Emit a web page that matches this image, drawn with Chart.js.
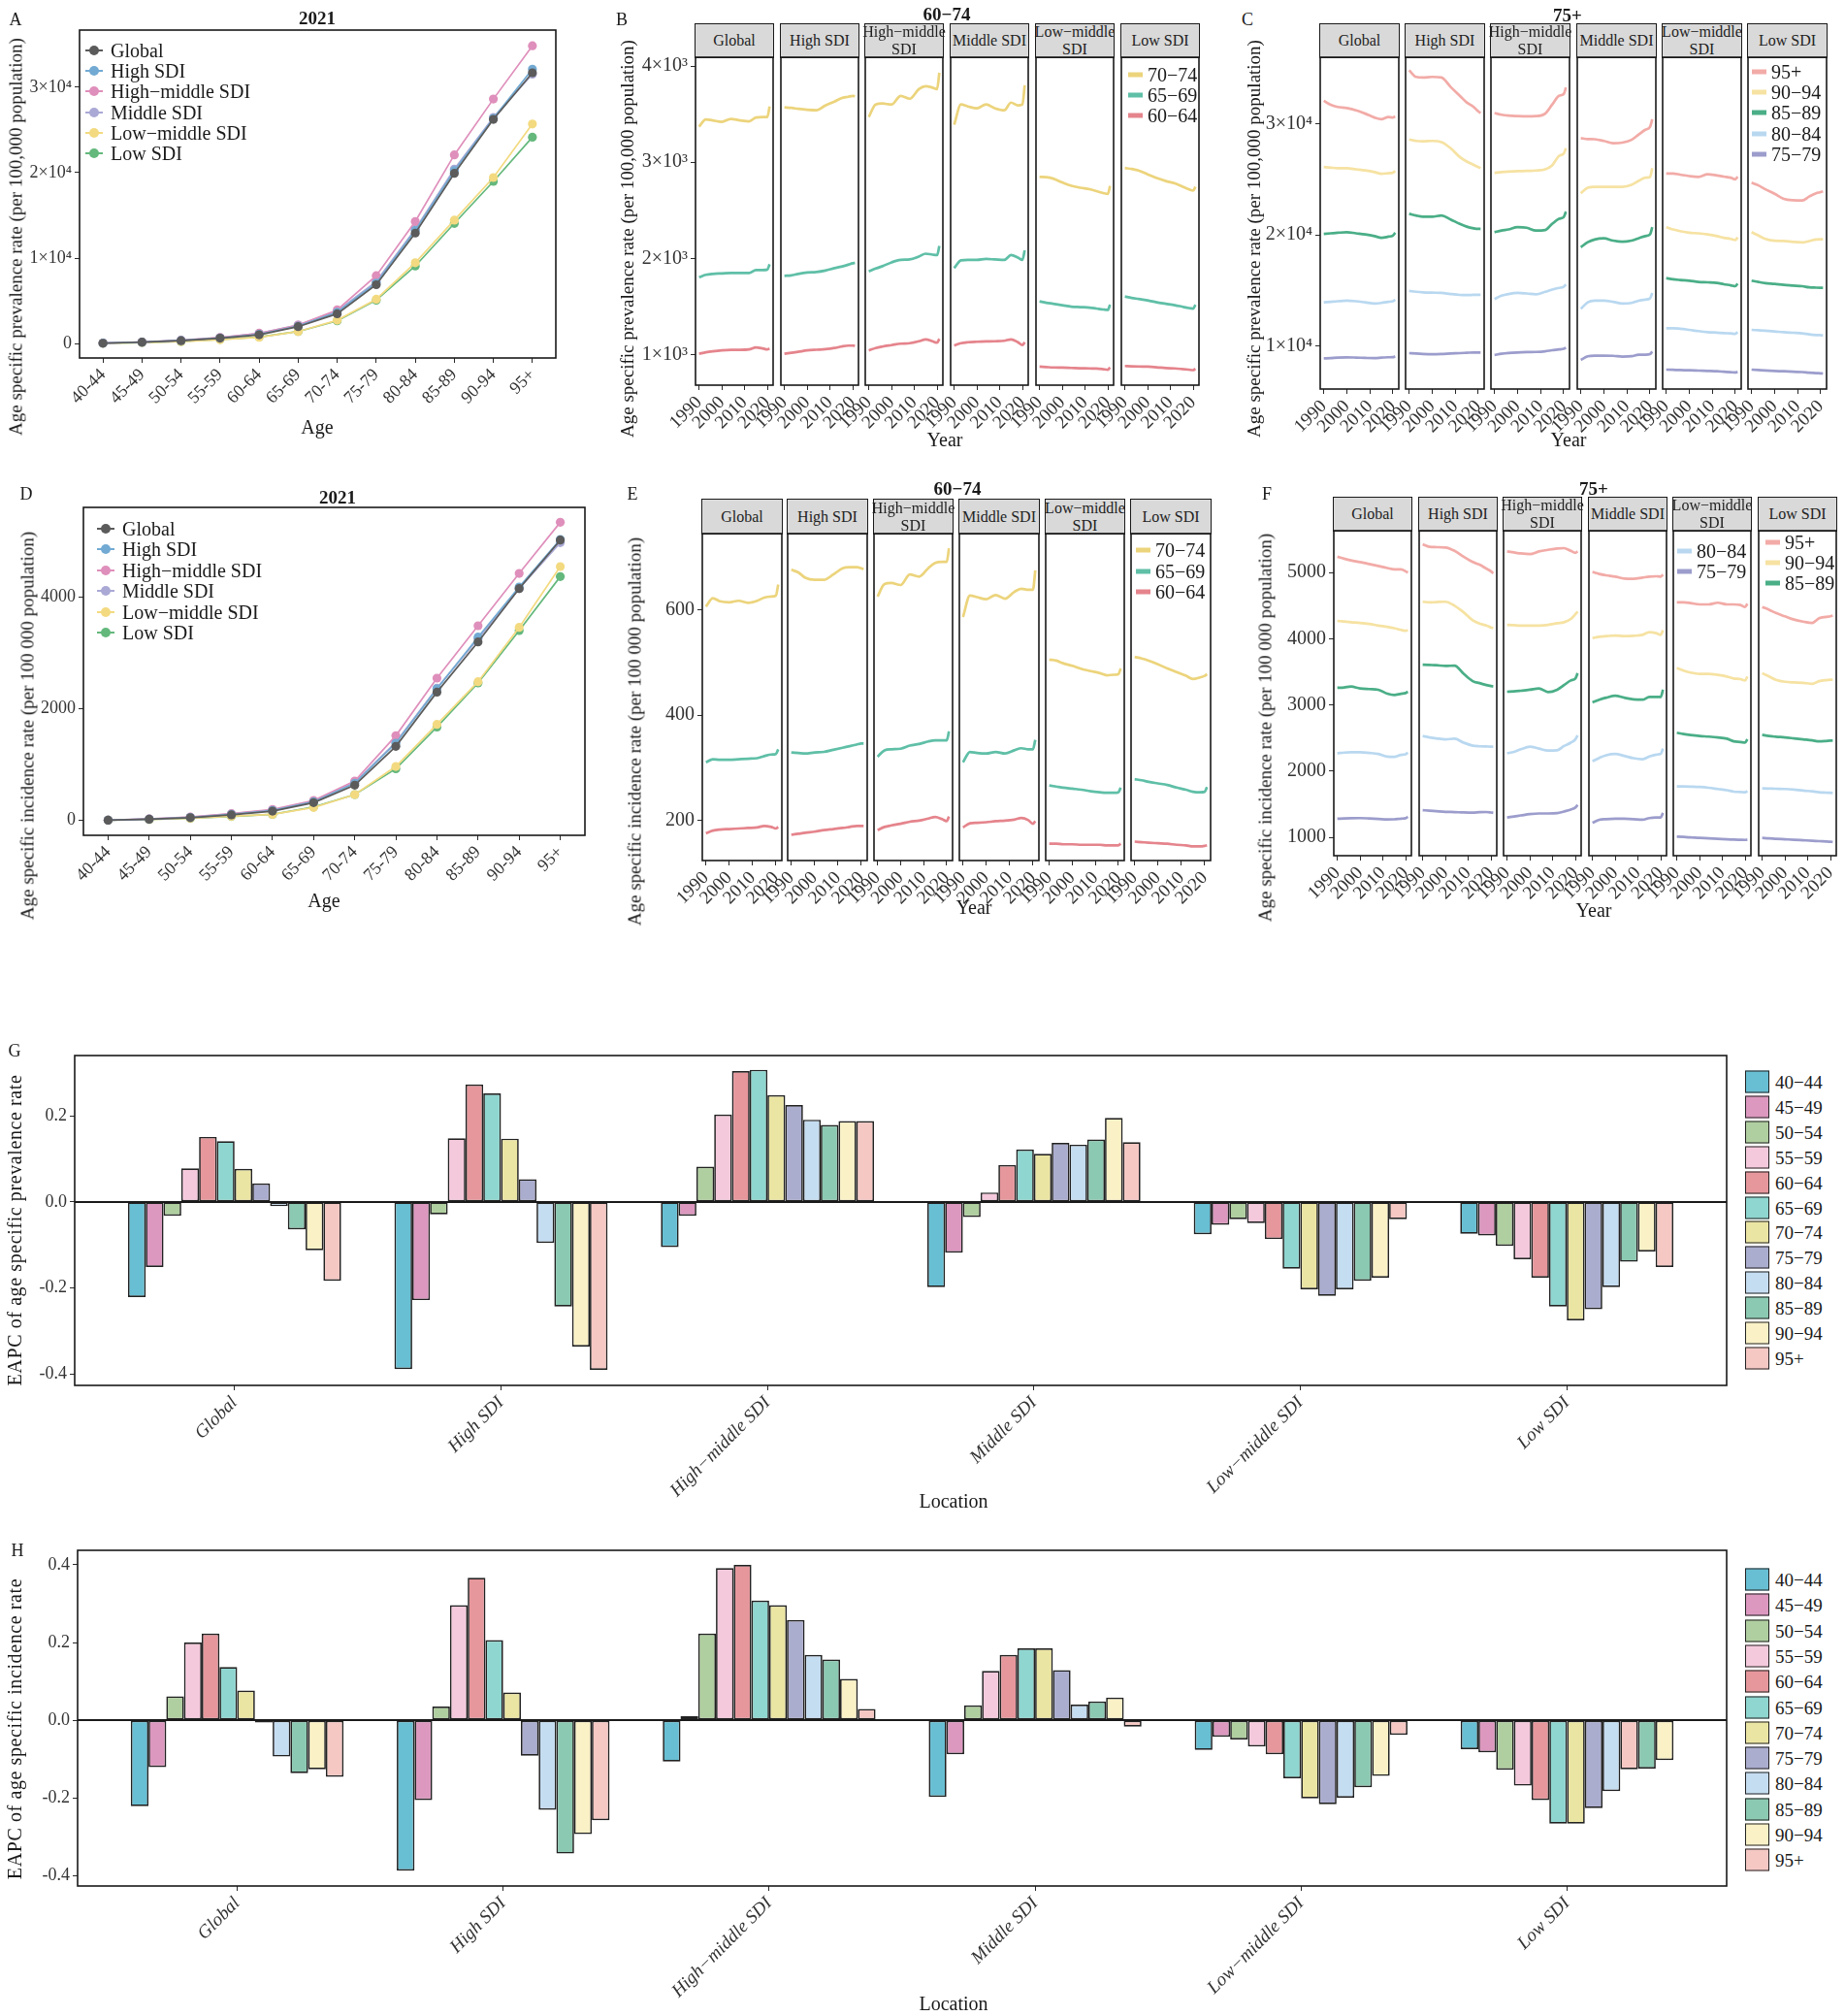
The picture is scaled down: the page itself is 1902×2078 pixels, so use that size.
<!DOCTYPE html>
<html>
<head>
<meta charset="utf-8">
<script src="https://cdn.jsdelivr.net/npm/chart.js@4.4.1/dist/chart.umd.min.js"></script>
<style>
  body { margin: 0; background: #fff; }
  #page { position: relative; width: 1902px; height: 2078px; overflow: hidden; background: #fff;
          font-family: "Liberation Serif", "Times New Roman", serif; color: #1a1a1a; }
  .abs { position: absolute; white-space: nowrap; line-height: 1; }
  .strip { position: absolute; box-sizing: border-box; background: #d9d9d9; border: 1.5px solid #1a1a1a;
           display: flex; align-items: center; justify-content: center; text-align: center;
           font-size: 16px; line-height: 18px; white-space: pre-line; color: #222; }
</style>
</head>
<body>
<div id="page"></div>
<script>
// ---------- shared categories ----------
const AGES = ["40-44", "45-49", "50-54", "55-59", "60-64", "65-69", "70-74", "75-79", "80-84", "85-89", "90-94", "95+"];
const AGE_GROUPS = ["40−44", "45−49", "50−54", "55−59", "60−64", "65−69", "70−74", "75−79", "80−84", "85−89", "90−94", "95+"];
const SDI_NAMES = ["Global", "High SDI", "High−middle SDI", "Middle SDI", "Low−middle SDI", "Low SDI"];
const STRIP_LABELS = ["Global", "High SDI", "High−middle\nSDI", "Middle SDI", "Low−middle\nSDI", "Low SDI"];
const YEARS = [1990, 1993, 1996, 2000, 2004, 2008, 2012, 2015, 2018, 2020, 2021];
const YEAR_TICKS = [1990, 2000, 2010, 2020];

// ---------- A: prevalence by age, 2021 ----------
const prevGlobal      = [30, 150, 330, 620, 1020, 1970, 3480, 6880, 12930, 19920, 26240, 31700];
const prevHigh        = [40, 160, 350, 650, 1080, 2040, 3670, 7070, 13230, 20230, 26350, 32130];
const prevHighMiddle  = [50, 170, 380, 700, 1200, 2150, 3930, 7940, 14290, 22080, 28620, 34860];
const prevMiddle      = [40, 160, 360, 680, 1180, 2150, 3780, 7260, 13380, 20420, 26470, 31530];
const prevLowMiddle   = [20, 110, 220, 450, 720, 1400, 2720, 5180, 9450, 14440, 19430, 25700];
const prevLow         = [20, 110, 230, 480, 760, 1400, 2650, 5070, 9070, 14060, 18980, 24160];
const aTicks = [0, 10000, 20000, 30000];
const aTickLabels = ["0", "1×10⁴", "2×10⁴", "3×10⁴"];

// ---------- D: incidence by age, 2021 ----------
const incGlobal     = [5, 22, 50, 100, 168, 319, 632, 1328, 2301, 3200, 4157, 5026];
const incHigh       = [6, 24, 55, 110, 180, 335, 667, 1386, 2359, 3287, 4186, 5038];
const incHighMiddle = [7, 28, 62, 122, 197, 359, 707, 1519, 2551, 3490, 4429, 5345];
const incMiddle     = [6, 26, 60, 118, 190, 342, 678, 1403, 2371, 3258, 4157, 4980];
const incLowMiddle  = [4, 18, 40, 75, 110, 232, 464, 968, 1722, 2487, 3461, 4551];
const incLow        = [4, 18, 40, 72, 110, 243, 464, 927, 1675, 2464, 3403, 4371];
const dTicks = [0, 2000, 4000];
const dTickLabels = ["0", "2000", "4000"];

// ---------- B: prevalence 60-74 by year (rows: 70−74, 65−69, 60−64) ----------
const B_SERIES = ["70−74", "65−69", "60−64"];
const bGlobal = [
  [3370, 3445, 3435, 3420, 3450, 3435, 3425, 3465, 3470, 3470, 3580],
  [1805, 1830, 1840, 1845, 1850, 1850, 1850, 1880, 1880, 1885, 1940],
  [1010, 1025, 1035, 1045, 1050, 1050, 1055, 1075, 1065, 1055, 1065]];
const bHigh = [
  [3570, 3565, 3555, 3545, 3540, 3590, 3630, 3665, 3680, 3690, 3685],
  [1820, 1825, 1840, 1855, 1860, 1875, 1900, 1915, 1935, 1950, 1955],
  [1010, 1020, 1030, 1045, 1052, 1058, 1070, 1085, 1095, 1095, 1092]];
const bHighMiddle = [
  [3470, 3600, 3610, 3600, 3690, 3660, 3760, 3790, 3775, 3760, 3930],
  [1865, 1895, 1920, 1960, 1985, 1990, 2020, 2050, 2040, 2035, 2130],
  [1045, 1070, 1085, 1100, 1115, 1120, 1140, 1160, 1140, 1125, 1165]];
const bMiddle = [
  [3390, 3600, 3580, 3560, 3600, 3560, 3540, 3620, 3590, 3600, 3800],
  [1900, 1980, 1985, 1985, 1995, 1990, 1985, 2035, 2010, 1985, 2085],
  [1095, 1120, 1130, 1135, 1138, 1140, 1145, 1160, 1130, 1100, 1130]];
const bLowMiddle = [
  [2848, 2845, 2830, 2790, 2755, 2735, 2720, 2700, 2680, 2670, 2755],
  [1555, 1540, 1530, 1515, 1500, 1495, 1490, 1480, 1470, 1465, 1520],
  [876, 872, 868, 866, 863, 860, 858, 856, 850, 845, 868]];
const bLow = [
  [2940, 2930, 2915, 2875, 2835, 2805, 2780, 2750, 2720, 2705, 2745],
  [1605, 1590, 1580, 1565, 1545, 1530, 1515, 1500, 1485, 1480, 1520],
  [883, 880, 878, 876, 870, 862, 858, 852, 845, 840, 855]];
const bTicks = [1000, 2000, 3000, 4000];
const bTickLabels = ["1×10³", "2×10³", "3×10³", "4×10³"];

// ---------- C: prevalence 75+ by year (rows: 95+, 90−94, 85−89, 80−84, 75−79) ----------
const C_SERIES = ["95+", "90−94", "85−89", "80−84", "75−79"];
const cGlobal = [
  [32050, 31700, 31500, 31400, 31200, 30900, 30550, 30400, 30600, 30550, 30650],
  [26100, 26050, 26000, 26000, 25900, 25800, 25650, 25500, 25550, 25600, 25750],
  [20100, 20150, 20200, 20250, 20150, 20050, 19900, 19750, 19850, 19950, 20200],
  [13950, 14000, 14050, 14100, 14050, 13950, 13850, 13900, 14000, 14050, 14200],
  [8920, 8950, 8990, 9010, 8990, 8960, 8940, 8980, 9020, 9030, 9100]];
const cHigh = [
  [34800, 34200, 34150, 34200, 34150, 33300, 32500, 31900, 31500, 31100, 30950],
  [28580, 28450, 28420, 28450, 28350, 27800, 27000, 26600, 26300, 26100, 26000],
  [21900, 21750, 21650, 21650, 21750, 21400, 21000, 20750, 20600, 20550, 20550],
  [14970, 14900, 14850, 14820, 14800, 14700, 14620, 14600, 14620, 14620, 14620],
  [9390, 9350, 9320, 9300, 9320, 9360, 9390, 9420, 9450, 9450, 9450]];
const cHighMiddle = [
  [30950, 30800, 30720, 30680, 30660, 30680, 30900, 31700, 32500, 32650, 33250],
  [25580, 25650, 25700, 25730, 25760, 25790, 25900, 26250, 27100, 27300, 27800],
  [20250, 20400, 20500, 20700, 20650, 20400, 20450, 21000, 21450, 21600, 22100],
  [14250, 14550, 14700, 14800, 14750, 14680, 14900, 15100, 15250, 15350, 15550],
  [9220, 9330, 9400, 9450, 9480, 9500, 9560, 9650, 9720, 9780, 9880]];
const cMiddle = [
  [28700, 28620, 28600, 28450, 28250, 28300, 28550, 29000, 29450, 29700, 30400],
  [23750, 24250, 24330, 24330, 24330, 24330, 24500, 24850, 25150, 25200, 26000],
  [18900, 19350, 19600, 19700, 19500, 19400, 19500, 19700, 19900, 20050, 20700],
  [13370, 13950, 14100, 14100, 14000, 13850, 13900, 14100, 14200, 14300, 14800],
  [8780, 9100, 9160, 9160, 9150, 9080, 9110, 9240, 9250, 9300, 9530]];
const cLowMiddle = [
  [25520, 25520, 25420, 25290, 25220, 25450, 25350, 25250, 25150, 25000, 25230],
  [20700, 20500, 20350, 20200, 20150, 20050, 19900, 19750, 19650, 19550, 19800],
  [16130, 16020, 15960, 15900, 15780, 15750, 15700, 15580, 15480, 15400, 15640],
  [11630, 11630, 11580, 11480, 11370, 11280, 11230, 11190, 11160, 11130, 11280],
  [7910, 7890, 7870, 7850, 7820, 7790, 7760, 7720, 7680, 7650, 7700]];
const cLow = [
  [24700, 24450, 24100, 23700, 23250, 23120, 23100, 23450, 23750, 23850, 23920],
  [20260, 19950, 19650, 19480, 19470, 19380, 19330, 19450, 19600, 19620, 19620],
  [15900, 15780, 15680, 15610, 15520, 15460, 15400, 15300, 15270, 15260, 15260],
  [11480, 11440, 11400, 11340, 11270, 11220, 11170, 11080, 11020, 11000, 10990],
  [7910, 7870, 7830, 7790, 7760, 7720, 7690, 7640, 7600, 7570, 7560]];
const cTicks = [10000, 20000, 30000];
const cTickLabels = ["1×10⁴", "2×10⁴", "3×10⁴"];

// ---------- E: incidence 60-74 by year ----------
const eGlobal = [
  [607, 623, 617, 615, 618, 614, 618, 624, 626, 628, 649],
  [310, 316, 315, 315, 316, 317, 318, 322, 325, 326, 335],
  [175, 180, 182, 183, 184, 185, 186, 189, 187, 184, 187]];
const eHigh = [
  [677, 672, 662, 658, 658, 668, 680, 682, 682, 680, 678],
  [329, 328, 327, 329, 330, 334, 338, 341, 344, 346, 346],
  [172, 174, 176, 178, 181, 183, 185, 187, 189, 189, 189]];
const eHighMiddle = [
  [626, 650, 652, 648, 668, 664, 680, 690, 692, 692, 718],
  [321, 333, 335, 336, 342, 345, 350, 352, 352, 352, 369],
  [181, 187, 190, 193, 197, 199, 203, 206, 202, 198, 207]];
const eMiddle = [
  [587, 628, 625, 621, 629, 622, 635, 641, 639, 639, 676],
  [310, 330, 328, 327, 330, 327, 333, 337, 335, 335, 353],
  [186, 194, 195, 196, 198, 199, 201, 204, 200, 193, 198]];
const eLowMiddle = [
  [506, 504, 499, 494, 488, 484, 480, 476, 477, 478, 489],
  [266, 264, 262, 260, 258, 255, 253, 252, 252, 253, 262],
  [155, 155, 154, 154, 153, 153, 153, 152, 152, 152, 155]];
const eLow = [
  [511, 508, 504, 497, 489, 482, 475, 469, 472, 475, 478],
  [278, 276, 273, 270, 267, 262, 258, 254, 253, 254, 263],
  [159, 158, 157, 156, 155, 153, 152, 150, 150, 151, 152]];
const eTicks = [200, 400, 600];
const eTickLabels = ["200", "400", "600"];

// ---------- F: incidence 75+ by year ----------
const fGlobal = [
  [5240, 5210, 5185, 5160, 5130, 5100, 5070, 5050, 5050, 5020, 5000],
  [4270, 4260, 4250, 4240, 4225, 4200, 4180, 4160, 4135, 4120, 4130],
  [3260, 3265, 3278, 3250, 3240, 3230, 3170, 3150, 3170, 3180, 3200],
  [2270, 2280, 2285, 2285, 2275, 2260, 2220, 2215, 2245, 2255, 2280],
  [1280, 1285, 1288, 1290, 1285, 1278, 1270, 1272, 1282, 1288, 1310]];
const fHigh = [
  [5430, 5390, 5385, 5380, 5330, 5240, 5160, 5120, 5060, 5020, 4990],
  [4560, 4550, 4555, 4560, 4500, 4400, 4280, 4230, 4200, 4170, 4160],
  [3610, 3605, 3600, 3590, 3595, 3470, 3360, 3330, 3300, 3285, 3280],
  [2530, 2510, 2495, 2480, 2490, 2430, 2385, 2375, 2372, 2370, 2370],
  [1410, 1403, 1395, 1385, 1381, 1375, 1372, 1380, 1382, 1375, 1370]];
const fHighMiddle = [
  [5320, 5305, 5290, 5280, 5320, 5345, 5365, 5370, 5330, 5300, 5320],
  [4210, 4205, 4200, 4200, 4200, 4210, 4235, 4250, 4300, 4370, 4410],
  [3200, 3205, 3215, 3230, 3250, 3195, 3230, 3300, 3370, 3400, 3480],
  [2270, 2290, 2330, 2370, 2340, 2310, 2315, 2380, 2430, 2480, 2540],
  [1300, 1315, 1330, 1350, 1360, 1360, 1365, 1390, 1420, 1450, 1490]];
const fMiddle = [
  [5010, 4980, 4960, 4940, 4910, 4905, 4925, 4940, 4945, 4940, 4970],
  [4010, 4030, 4040, 4050, 4040, 4045, 4060, 4100, 4085, 4060, 4130],
  [3040, 3080, 3110, 3140, 3110, 3085, 3080, 3120, 3120, 3120, 3230],
  [2150, 2200, 2240, 2260, 2230, 2195, 2180, 2220, 2250, 2260, 2340],
  [1220, 1265, 1275, 1280, 1280, 1275, 1265, 1290, 1298, 1300, 1370]];
const fLowMiddle = [
  [4550, 4550, 4540, 4520, 4520, 4545, 4520, 4520, 4510, 4480, 4530],
  [3560, 3520, 3490, 3470, 3470, 3455, 3430, 3400, 3390, 3370, 3430],
  [2580, 2560, 2545, 2530, 2522, 2510, 2490, 2450, 2440, 2430, 2480],
  [1770, 1768, 1765, 1760, 1748, 1730, 1712, 1690, 1685, 1680, 1700],
  [1010, 1005, 1000, 990, 985, 978, 970, 965, 962, 960, 965]];
const fLow = [
  [4480, 4440, 4390, 4340, 4290, 4260, 4240, 4310, 4330, 4340, 4350],
  [3480, 3430, 3380, 3350, 3340, 3335, 3320, 3360, 3375, 3380, 3380],
  [2550, 2530, 2520, 2510, 2495, 2480, 2465, 2450, 2455, 2460, 2460],
  [1740, 1737, 1734, 1730, 1720, 1705, 1695, 1680, 1675, 1672, 1670],
  [990, 985, 978, 970, 962, 955, 948, 942, 937, 933, 930]];
const fTicks = [1000, 2000, 3000, 4000, 5000];
const fTickLabels = ["1000", "2000", "3000", "4000", "5000"];

// ---------- G: EAPC of prevalence (one value per age group) ----------
const gGlobal     = [-0.221, -0.151, -0.032, 0.078, 0.151, 0.141, 0.077, 0.043, -0.010, -0.064, -0.112, -0.183];
const gHigh       = [-0.388, -0.228, -0.029, 0.148, 0.273, 0.252, 0.147, 0.053, -0.095, -0.243, -0.336, -0.390];
const gHighMiddle = [-0.105, -0.032, 0.082, 0.203, 0.304, 0.307, 0.248, 0.225, 0.191, 0.179, 0.188, 0.188];
const gMiddle     = [-0.198, -0.118, -0.035, 0.022, 0.086, 0.122, 0.112, 0.137, 0.133, 0.145, 0.195, 0.139];
const gLowMiddle  = [-0.075, -0.053, -0.040, -0.049, -0.086, -0.155, -0.203, -0.218, -0.203, -0.183, -0.176, -0.040];
const gLow        = [-0.074, -0.078, -0.102, -0.133, -0.176, -0.243, -0.275, -0.249, -0.198, -0.139, -0.115, -0.151];
const gTicks = [-0.4, -0.2, 0, 0.2];
const gTickLabels = ["-0.4", "-0.2", "0.0", "0.2"];

// ---------- H: EAPC of incidence ----------
const hGlobal     = [-0.222, -0.121, 0.061, 0.200, 0.223, 0.137, 0.076, -0.006, -0.094, -0.137, -0.127, -0.146];
const hHigh       = [-0.388, -0.206, 0.035, 0.296, 0.367, 0.206, 0.071, -0.092, -0.231, -0.344, -0.294, -0.258];
const hHighMiddle = [-0.107, 0.010, 0.223, 0.392, 0.400, 0.308, 0.296, 0.258, 0.168, 0.156, 0.106, 0.029];
const hMiddle     = [-0.198, -0.088, 0.038, 0.127, 0.168, 0.185, 0.185, 0.129, 0.040, 0.048, 0.058, -0.017];
const hLowMiddle  = [-0.077, -0.043, -0.050, -0.068, -0.088, -0.150, -0.202, -0.217, -0.200, -0.173, -0.144, -0.038];
const hLow        = [-0.075, -0.083, -0.128, -0.169, -0.206, -0.267, -0.267, -0.227, -0.183, -0.127, -0.125, -0.103];
// in the Low SDI group of H the last three slots show 95+, 85−89, 90−94 in that order
const hLowSlotGroup = [0, 1, 2, 3, 4, 5, 6, 7, 8, 11, 9, 10];
const hTicks = [-0.4, -0.2, 0, 0.2, 0.4];
const hTickLabels = ["-0.4", "-0.2", "0.0", "0.2", "0.4"];

// ---------- colours ----------
const SDI_COLORS = ["#5b5b5b", "#72aad3", "#df8fbb", "#aaa9d5", "#f3da80", "#64b87c"];
const B_COLORS = ["#ecd47c", "#5fbfa7", "#e5848c"];
const C_COLORS = ["#f2aba7", "#f6e2a2", "#4aae87", "#b9d8f0", "#9c9dcc"];
const BAR_COLORS = ["#68bfd3", "#dc98bf", "#b0cfa0", "#f5c9dc", "#e6979c", "#8fd6d0",
                    "#ebe5a3", "#abadcf", "#c5ddf1", "#8cc9b2", "#faf1c6", "#f5c8c4"];

// ---------- helpers ----------
Chart.defaults.font.family = '"Liberation Serif", "Times New Roman", serif';
Chart.defaults.color = "#2a2a2a";
const page = document.getElementById("page");

// draw the black panel frame (and an optional zero line) above the data
Chart.register({
  id: "frame",
  afterDatasetsDraw(chart, args, opts) {
    const { ctx, chartArea: a } = chart;
    ctx.save();
    ctx.strokeStyle = "#1a1a1a";
    if (opts.zero) {
      const y = chart.scales.y.getPixelForValue(0);
      ctx.lineWidth = 2;
      ctx.beginPath(); ctx.moveTo(a.left, y); ctx.lineTo(a.right, y); ctx.stroke();
    }
    ctx.lineWidth = 1.6;
    ctx.strokeRect(a.left, a.top, a.right - a.left, a.bottom - a.top);
    ctx.restore();
  }
});

function label(str, x, y, size, extra) {
  const d = document.createElement("div");
  d.className = "abs";
  d.textContent = str;
  d.style.left = x + "px";
  d.style.top = y + "px";
  d.style.fontSize = size + "px";
  d.style.transform = "translate(-50%,-50%)" + (extra && extra.rotate ? " rotate(-90deg)" : "");
  if (extra && extra.bold) d.style.fontWeight = "bold";
  if (extra && extra.spacing) d.style.letterSpacing = extra.spacing + "px";
  if (extra && extra.left) d.style.transform = "translate(0,-50%)";
  page.appendChild(d);
  return d;
}

function plot(box, pad, config) {
  const [l, t, r, b] = box;
  const w = Math.round(r - l + pad.l + pad.r), h = Math.round(b - t + pad.t + pad.b);
  const c = document.createElement("canvas");
  c.width = w; c.height = h;
  c.style.cssText = `position:absolute;left:${Math.round(l - pad.l)}px;top:${Math.round(t - pad.t)}px;width:${w}px;height:${h}px`;
  page.appendChild(c);
  Object.assign(config.options, { responsive: false, animation: false, devicePixelRatio: 1 });
  return new Chart(c, config);
}

const tickGrid = { drawOnChartArea: false, offset: false, tickLength: 5, color: "#2a2a2a", lineWidth: 1 };

function yAxis(min, max, ticks, labels, width, size) {
  return {
    type: "linear", min, max,
    afterBuildTicks: s => { s.ticks = ticks.map(v => ({ value: v })); },
    afterFit: s => { s.width = width; s.paddingTop = 0; s.paddingBottom = 0; },
    grid: tickGrid, border: { display: false },
    ticks: { autoSkip: false, padding: 3, font: { size }, color: "#333", callback: (v, i) => labels[i] }
  };
}

function xAxis(min, max, ticks, labels, height, font) {
  return {
    type: "linear", min, max, offset: false,
    afterBuildTicks: s => { s.ticks = ticks.map(v => ({ value: v })); },
    afterFit: s => { s.height = height; s.paddingLeft = 0; s.paddingRight = 0; },
    grid: tickGrid, border: { display: false },
    ticks: { autoSkip: false, minRotation: 45, maxRotation: 45, padding: 2, font, color: "#333",
             callback: (v, i) => labels[i] }
  };
}

// ---------- A and D: age curves ----------
function ageChart(box, rows, yMin, yMax, ticks, tickLabels) {
  plot(box, { l: 62, r: 8, t: 8, b: 66 }, {
    type: "line",
    data: {
      datasets: SDI_NAMES.map((name, k) => ({
        label: name,
        data: AGES.map((a, j) => ({ x: j, y: rows[k][j] })),
        borderColor: SDI_COLORS[k], backgroundColor: SDI_COLORS[k],
        borderWidth: 1.7, pointRadius: 4.6, pointBorderWidth: 0
      }))
    },
    options: {
      layout: { padding: { top: 8, right: 8 } },
      plugins: { legend: { display: false }, tooltip: { enabled: false } },
      scales: {
        x: xAxis(-0.6, 11.6, AGES.map((a, j) => j), AGES, 66, { size: 18 }),
        y: yAxis(yMin, yMax, ticks, tickLabels, 62, 18)
      }
    }
  });
}

function pointLegend(x, y0, dy) {
  SDI_NAMES.forEach((name, k) => {
    const d = label("", x, y0 + k * dy, 20, { left: true });
    d.style.display = "flex"; d.style.alignItems = "center";
    d.innerHTML = `<svg width="22" height="12" style="margin-right:6px"><line x1="2" y1="6" x2="20" y2="6" stroke="${SDI_COLORS[k]}" stroke-width="2"/><circle cx="11" cy="6" r="5" fill="${SDI_COLORS[k]}"/></svg>`;
    d.appendChild(document.createTextNode(name));
  });
}

ageChart([82, 31, 573, 369], [prevGlobal, prevHigh, prevHighMiddle, prevMiddle, prevLowMiddle, prevLow],
         -1700, 36700, aTicks, aTickLabels);
pointLegend(86, 52, 21.2);
label("A", 16, 20, 18);
label("2021", 327, 18, 19, { bold: true });
label("Age", 327, 440, 20);
label("Age specific prevalence rate (per 100,000 population)", 16, 244, 19, { rotate: true });

ageChart([86, 523, 603, 861], [incGlobal, incHigh, incHighMiddle, incMiddle, incLowMiddle, incLow],
         -266, 5612, dTicks, dTickLabels);
pointLegend(98, 545, 21.4);
label("D", 27, 509, 18);
label("2021", 348, 512, 19, { bold: true });
label("Age", 334, 928, 20);
label("Age specific incidence rate (per 100 000 population)", 28, 748, 19, { rotate: true });

// ---------- B, C, E, F: faceted year curves ----------
function facetPanel(p) {
  SDI_NAMES.forEach((loc, i) => {
    const l = Math.round(p.left + i * p.step), r = Math.round(p.left + i * p.step + p.width);
    const s = document.createElement("div");
    s.className = "strip";
    s.textContent = STRIP_LABELS[i];
    s.style.left = (l - 1) + "px"; s.style.top = p.stripTop + "px";
    s.style.width = (r - l + 2) + "px"; s.style.height = (p.stripBottom - p.stripTop + 1) + "px";
    page.appendChild(s);
    const first = i === 0, padL = first ? 68 : 42;
    plot([l, p.stripBottom, r, p.plotBottom], { l: padL, r: 6, t: 6, b: 54 }, {
      type: "line",
      data: {
        datasets: p.series.map((name, k) => ({
          label: name,
          data: YEARS.map((yr, j) => ({ x: yr, y: p.rows[i][k][j] })),
          borderColor: p.colors[k], borderWidth: 2.7, pointRadius: 0,
          cubicInterpolationMode: "monotone"
        }))
      },
      options: {
        layout: { padding: { left: first ? 0 : padL, right: 6, top: 6 } },
        plugins: { legend: { display: false }, tooltip: { enabled: false } },
        scales: {
          x: xAxis(1988.45, 2022.55, YEAR_TICKS, YEAR_TICKS.map(String), 54, { size: 19 }),
          y: first ? yAxis(p.yMin, p.yMax, p.ticks, p.tickLabels, padL, 20)
                   : { display: false, min: p.yMin, max: p.yMax }
        }
      }
    });
  });
}

function lineLegend(x, y0, dy, names, colors) {
  names.forEach((name, k) => {
    const d = label("", x, y0 + k * dy, 20, { left: true });
    d.style.display = "flex"; d.style.alignItems = "center";
    d.innerHTML = `<svg width="15" height="8" style="margin-right:5px"><line x1="0" y1="4" x2="15" y2="4" stroke="${colors[k]}" stroke-width="5"/></svg>`;
    d.appendChild(document.createTextNode(name));
  });
}

facetPanel({ left: 717, step: 87.7, width: 80, stripTop: 24, stripBottom: 59, plotBottom: 397,
             yMin: 684, yMax: 4091, ticks: bTicks, tickLabels: bTickLabels,
             series: B_SERIES, colors: B_COLORS,
             rows: [bGlobal, bHigh, bHighMiddle, bMiddle, bLowMiddle, bLow] });
lineLegend(1163, 77, 21, B_SERIES, B_COLORS);
label("B", 641, 20, 18);
label("60−74", 976, 14, 19, { bold: true });
label("Year", 974, 453, 20);
label("Age specific prevalence rate (per 100,000 population)", 646, 246, 19, { rotate: true });

facetPanel({ left: 1361, step: 88.2, width: 81, stripTop: 24, stripBottom: 59, plotBottom: 401,
             yMin: 6166, yMax: 35965, ticks: cTicks, tickLabels: cTickLabels,
             series: C_SERIES, colors: C_COLORS,
             rows: [cGlobal, cHigh, cHighMiddle, cMiddle, cLowMiddle, cLow] });
lineLegend(1806, 74, 21.2, C_SERIES, C_COLORS);
label("C", 1286, 20, 18);
label("75+", 1616, 15, 19, { bold: true });
label("Year", 1617, 453, 20);
label("Age specific prevalence rate (per 100,000 population)", 1292, 246, 19, { rotate: true });

facetPanel({ left: 724, step: 88.4, width: 81.5, stripTop: 514, stripBottom: 550, plotBottom: 887,
             yMin: 123, yMax: 746, ticks: eTicks, tickLabels: eTickLabels,
             series: B_SERIES, colors: B_COLORS,
             rows: [eGlobal, eHigh, eHighMiddle, eMiddle, eLowMiddle, eLow] });
lineLegend(1171, 567, 21.5, B_SERIES, B_COLORS);
label("E", 652, 509, 18);
label("60−74", 987, 503, 19, { bold: true });
label("Year", 1004, 935, 20);
label("Age specific incidence rate (per 100 000 population)", 654, 754, 19, { rotate: true });

facetPanel({ left: 1375, step: 87.6, width: 80, stripTop: 512, stripBottom: 547, plotBottom: 882,
             yMin: 722, yMax: 5634, ticks: fTicks, tickLabels: fTickLabels,
             series: C_SERIES, colors: C_COLORS,
             rows: [fGlobal, fHigh, fHighMiddle, fMiddle, fLowMiddle, fLow] });
lineLegend(1820, 559, 21, C_SERIES.slice(0, 3), C_COLORS.slice(0, 3));
lineLegend(1729, 568, 21, C_SERIES.slice(3), C_COLORS.slice(3));
label("F", 1306, 509, 18);
label("75+", 1643, 503, 19, { bold: true });
label("Year", 1643, 938, 20);
label("Age specific incidence rate (per 100 000 population)", 1304, 750, 19, { rotate: true });

// ---------- G and H: EAPC bars ----------
function barChart(box, rows, yMin, yMax, ticks, tickLabels, slotGroup) {
  plot(box, { l: 60, r: 8, t: 8, b: 125 }, {
    type: "bar",
    data: {
      datasets: AGE_GROUPS.map((g, i) => ({
        label: g,
        data: SDI_NAMES.map((loc, j) => ({ x: j, y: rows[j][i] })),
        backgroundColor: ctx => (slotGroup && ctx.dataIndex === 5) ? BAR_COLORS[slotGroup[i]] : BAR_COLORS[i],
        borderColor: "#222", borderWidth: 1.7, borderSkipped: false,
        categoryPercentage: 0.8, barPercentage: 1.0
      }))
    },
    options: {
      layout: { padding: { top: 8, right: 8 } },
      plugins: { legend: { display: false }, tooltip: { enabled: false }, frame: { zero: true } },
      scales: {
        x: xAxis(-0.6, 5.6, SDI_NAMES.map((n, j) => j), SDI_NAMES, 125, { size: 19, style: "italic" }),
        y: yAxis(yMin, yMax, ticks, tickLabels, 60, 18)
      }
    }
  });
}

function boxLegend(x, y0, dy) {
  AGE_GROUPS.forEach((g, k) => {
    const d = label("", x, y0 + k * dy, 19, { left: true });
    d.style.display = "flex"; d.style.alignItems = "center";
    d.innerHTML = `<span style="display:inline-block;box-sizing:border-box;width:25px;height:23px;background:${BAR_COLORS[k]};border:1.5px solid #222;margin-right:6px"></span>`;
    d.appendChild(document.createTextNode(g));
  });
}

barChart([77, 1088, 1780, 1428], [gGlobal, gHigh, gHighMiddle, gMiddle, gLowMiddle, gLow],
         -0.426, 0.340, gTicks, gTickLabels, null);
boxLegend(1799, 1115, 25.9);
label("G", 15, 1083, 18);
label("Location", 983, 1547, 20);
label("EAPC of age specific prevalence rate", 15, 1268, 20, { rotate: true, spacing: 0.6 });

barChart([80, 1598, 1780, 1944], [hGlobal, hHigh, hHighMiddle, hMiddle, hLowMiddle, hLow],
         -0.4275, 0.4375, hTicks, hTickLabels, hLowSlotGroup);
boxLegend(1799, 1628, 26.3);
label("H", 18, 1598, 18);
label("Location", 983, 2065, 20);
label("EAPC of age specific incidence rate", 15, 1782, 20, { rotate: true, spacing: 0.6 });
</script>
</body>
</html>
